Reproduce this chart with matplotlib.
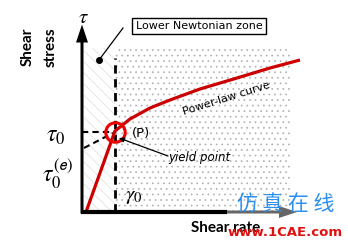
import matplotlib.pyplot as plt
import matplotlib.patches as patches

plt.rcParams['mathtext.fontset'] = 'stix'
plt.rcParams['hatch.linewidth'] = 0.5

# schematic flow curve (arbitrary units, origin at the axes corner)
shear_rate = [4, 33, 48, 68, 88, 118, 155, 188, 218]
shear_stress = [0, 81, 93, 104, 112, 123, 134, 144, 152]
gamma0 = 33
tau0 = 80
tau0_e = 64
zone_top = 164
zone_right = 208

fig = plt.figure(figsize=(3.48, 2.40), dpi=100)
ax = fig.add_axes([0, 0, 1, 1])
ax.set_xlim(-82, 266)
ax.set_ylim(-28, 212)
ax.axis('off')

# zones
ax.add_patch(patches.Rectangle((2, 0), gamma0 - 2, zone_top, facecolor='white',
                               edgecolor='#dddddd', hatch='\\\\\\', linewidth=0))
ax.add_patch(patches.Rectangle((gamma0, 0), zone_right - gamma0, zone_top, facecolor='white',
                               edgecolor='#b0b0b0', hatch='...', linewidth=0))

# dashed guides
ax.plot([gamma0, gamma0], [0, 154], color='black', lw=2, ls=(0, (3, 2)))
ax.plot([0, gamma0], [tau0, tau0], color='black', lw=1.5, ls=(0, (3, 2)))
ax.plot([2, gamma0 - 2], [tau0_e, tau0 - 1], color='black', lw=1.5, ls=(0, (3, 2)))

# curve
ax.plot(shear_rate, shear_stress, color='#cc0000', lw=2.3, solid_capstyle='butt')
ax.plot([gamma0], [tau0], marker='o', ms=14, mfc='none', mec='#ee0000', mew=2.2)

# axes arrows
ax.plot([-1, 145], [0, 0], color='black', lw=3, solid_capstyle='butt')
ax.arrow(143, 0, 72, 0, width=3, head_width=12, head_length=18,
         length_includes_head=True, color='#666666', lw=0)
ax.arrow(0, -1.5, 0, 189, width=3, head_width=12, head_length=18,
         length_includes_head=True, color='black', lw=0)

# labels
ax.text(1, 195, r'$\tau$', fontsize=15, ha='center', va='center')
ax.text(-54, 165, 'Shear', fontsize=11, fontweight='bold', family='Lato',
        rotation=90, ha='center', va='center')
ax.text(-31, 165, 'stress', fontsize=11, fontweight='bold', family='Lato',
        rotation=90, ha='center', va='center')
ax.text(-26, 77, r'$\tau_0$', fontsize=17, ha='center', va='center')
ax.text(-25, 38, r'$\tau_0^{\mathsf{(e)}}$', fontsize=17, ha='center', va='center')
ax.text(52, 16, r'$\gamma_0$', fontsize=15, ha='center', va='center')
ax.text(59, 79, '(P)', fontsize=9.5, ha='center', va='center')
ax.text(86, 54, 'yield point', fontsize=8.5, style='italic', ha='left', va='center')
ax.annotate('', xy=(37, 74), xytext=(86, 56),
            arrowprops=dict(arrowstyle='-|>', color='black', lw=0.9,
                            mutation_scale=7, shrinkA=0, shrinkB=0))
ax.text(144, 114, 'Power-law curve', fontsize=8, rotation=17.5,
        ha='center', va='center')

# callout
ax.plot([17, 41], [152, 184], color='black', lw=0.9)
ax.plot([17], [152], marker='o', ms=4, color='black')
ax.text(117, 186, 'Lower Newtonian zone', fontsize=8, ha='center', va='center',
        bbox=dict(boxstyle='square,pad=0.3', facecolor='white', edgecolor='black', lw=1))

ax.text(109, -16, 'Shear rate', fontsize=11, fontweight='bold', family='Lato',
        ha='left', va='center')

# watermark
ax.text(204, 7, '仿 真 在 线', fontsize=15, color='#2a8ff0',
        family=['Noto Sans CJK SC', 'DejaVu Sans'], ha='center', va='center')
ax.text(203, -20, 'www.1CAE.com', fontsize=9.5, fontweight='bold', color='#e01010',
        ha='center', va='center')

fig.savefig('out.png', dpi=100)
